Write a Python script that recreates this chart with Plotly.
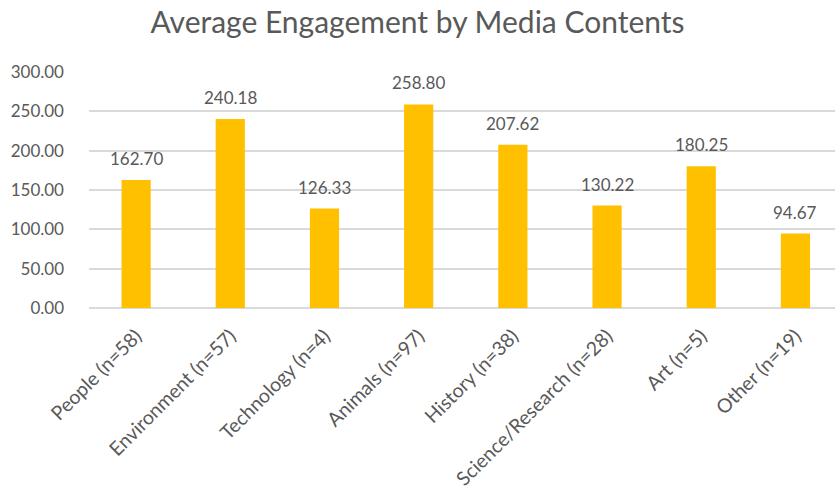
import plotly.graph_objects as go

categories = ["People (n=58)", "Environment (n=57)", "Technology (n=4)", "Animals (n=97)",
              "History (n=38)", "Science/Research (n=28)", "Art (n=5)", "Other (n=19)"]
avg_engagement = [162.70, 240.18, 126.33, 258.80, 207.62, 130.22, 180.25, 94.67]
y_ticks = [0, 50, 100, 150, 200, 250, 300]

TEXT = "#595959"
FONT = "Lato"

fig = go.Figure(go.Bar(
    x=categories,
    y=avg_engagement,
    marker=dict(color="#FFC000", line=dict(width=0)),
    hoverinfo="x+y",
))

# value labels above each bar
for c, v in zip(categories, avg_engagement):
    fig.add_annotation(x=c, y=v, text=f"{v:.2f}", showarrow=False,
                       yanchor="bottom", yshift=9,
                       font=dict(family=FONT, size=17, color=TEXT))

fig.update_layout(
    width=835, height=495,
    margin=dict(l=89, r=0, t=72, b=187),
    paper_bgcolor="white", plot_bgcolor="white",
    bargap=0.69,
    showlegend=False,
    title=dict(text="Average Engagement by Media Contents", x=0.5, xanchor="center",
               y=0.955, yanchor="middle",
               font=dict(family=FONT, size=30, color=TEXT)),
    xaxis=dict(tickangle=-45, range=[-0.5, 7.42],
               tickfont=dict(family=FONT, size=19.5, color=TEXT),
               ticklabelstandoff=12,
               showline=False, showgrid=False, ticks=""),
    yaxis=dict(range=[0, 300], tickvals=y_ticks, tickformat=".2f",
               tickfont=dict(family=FONT, size=17, color=TEXT),
               gridcolor="#D9D9D9", gridwidth=1.5, zeroline=True,
               zerolinecolor="#D9D9D9", zerolinewidth=1.5,
               ticklabelstandoff=24, showline=False),
)

fig.write_html("out.html")
